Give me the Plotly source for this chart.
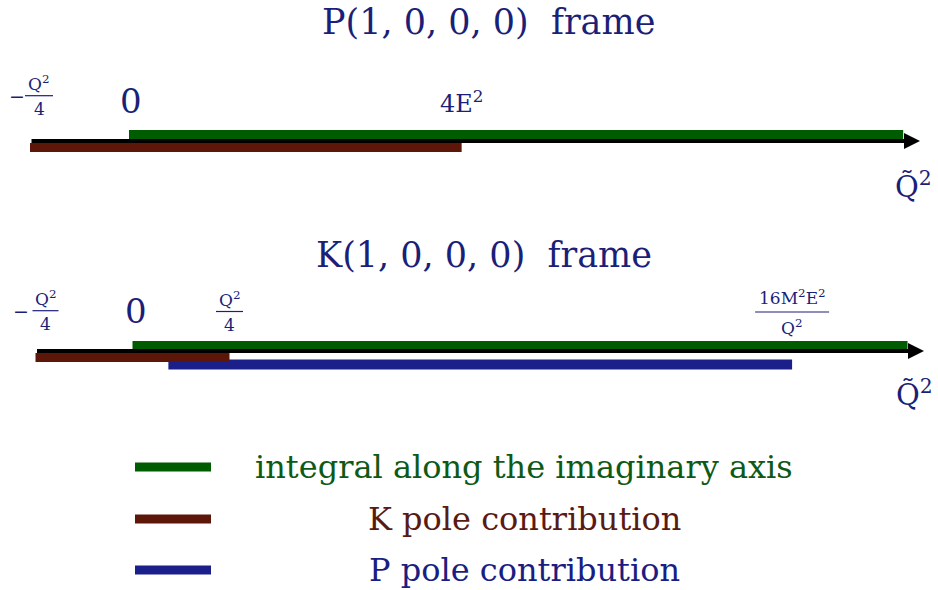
import plotly.graph_objects as go

W, H = 938, 590
FONT = "DejaVu Serif"
NAVY = "#1b1f78"
GREEN = "#005c00"
BROWN = "#5c1708"
BLUE = "#1a1f8a"
GREEN_TXT = "#0e5a14"
BROWN_TXT = "#5a1a12"
BLUE_TXT = "#1a1e82"

# ---- data: positions along the Q~^2 axis, in units of Q^2/4 ----
p_axis = [-1.0, 7.99]        # axis start, arrow tip
p_integral = [0.0, 7.82]     # integral along the imaginary axis
p_kpole = [-1.0, 3.36]       # K pole contribution (-Q^2/4 .. 4E^2)
p_tick_vals = [-1.0, 0.0, 3.36]

k_axis = [-1.0, 8.16]
k_integral = [0.0, 7.99]
k_kpole = [-1.0, 1.0]        # -Q^2/4 .. Q^2/4
k_ppole = [0.37, 6.8]        # .. 16M^2E^2/Q^2
k_tick_vals = [-1.0, 0.0, 1.0, 6.8]

legend_names = ["integral along the imaginary axis", "K pole contribution", "P pole contribution"]
frame_titles = ["P(1, 0, 0, 0)\u00a0 frame", "K(1, 0, 0, 0)\u00a0 frame"]

# ---- layout geometry (pixels) ----
P_ZERO, P_UNIT = 129.0, 99.0
K_ZERO, K_UNIT = 132.5, 97.0
def rng(zero, unit):
    return [-zero / unit, (W - zero) / unit]

P_AXIS_Y, P_INT_Y, P_K_Y = 141.0, 134.5, 147.5
K_AXIS_Y, K_INT_Y, K_K_Y, K_P_Y = 351.0, 345.5, 357.5, 364.5

fig = go.Figure()

def seg(xs, y, color, width, xaxis):
    fig.add_trace(go.Scatter(x=xs, y=[y, y], mode="lines", xaxis=xaxis, yaxis="y",
                             line=dict(color=color, width=width), hoverinfo="skip",
                             showlegend=False))

# top frame
seg(p_integral, P_INT_Y, GREEN, 9, "x")
seg(p_kpole, P_K_Y, BROWN, 9, "x")
# bottom frame
seg(k_integral, K_INT_Y, GREEN, 9, "x2")
seg(k_ppole, K_P_Y, BLUE, 10, "x2")
seg(k_kpole, K_K_Y, BROWN, 9, "x2")

ann = []
shapes = []

def axis_arrow(xs, y, xref):
    ann.append(dict(x=xs[1], y=y, ax=xs[0], ay=y, xref=xref, yref="y", axref=xref, ayref="y",
                    showarrow=True, arrowhead=2, arrowsize=0.8, arrowwidth=4,
                    arrowcolor="black", text=""))

axis_arrow(p_axis, P_AXIS_Y, "x")
axis_arrow(k_axis, K_AXIS_Y, "x2")

def text(x, y, s, size, color=NAVY, xref="x", xshift=0, xanchor="center"):
    ann.append(dict(x=x, y=y, xref=xref, yref="y", text=s, showarrow=False,
                    xanchor=xanchor, yanchor="middle", xshift=xshift,
                    font=dict(family=FONT, size=size, color=color)))

def frac(x, xref, ybar, num, den, size, barw, gap, xshift=0, minus=None):
    text(x, ybar - gap, num, size, xref=xref, xshift=xshift)
    text(x, ybar + gap, den, size, xref=xref, xshift=xshift)
    shapes.append(dict(type="line", xref=xref, yref="y", xsizemode="pixel", xanchor=x,
                       x0=xshift - barw / 2, x1=xshift + barw / 2, y0=ybar, y1=ybar,
                       line=dict(color=NAVY, width=1.2)))
    if minus is not None:
        text(x, ybar, "\u2212", size + 2, xref=xref, xshift=minus)

# titles
text(488 / W, 22, frame_titles[0], 35, xref="paper")
text(484 / W, 255, frame_titles[1], 35, xref="paper")

# top frame labels
frac(p_tick_vals[0], "x", 95.7, "Q<sup>2</sup>", "4", 17, 28, 13, xshift=9, minus=-13)
text(p_tick_vals[1], 101, "0", 34, xshift=2)
text(p_tick_vals[2], 102, "4E<sup>2</sup>", 24)
text(p_axis[1], 185, "Q\u0303<sup>2</sup>", 29, xshift=-7)

# bottom frame labels
frac(k_tick_vals[0], "x2", 310.7, "Q<sup>2</sup>", "4", 17, 26, 13, xshift=10, minus=-15)
text(k_tick_vals[1], 311, "0", 34, xref="x2", xshift=3)
frac(k_tick_vals[2], "x2", 311.5, "Q<sup>2</sup>", "4", 17, 27, 13)
frac(k_tick_vals[3], "x2", 312, "16M<sup>2</sup>E<sup>2</sup>", "Q<sup>2</sup>", 17, 74, 15)
text(k_axis[1], 393, "Q\u0303<sup>2</sup>", 29, xref="x2", xshift=-10)

# legend
leg_colors = [GREEN, BROWN, BLUE]
leg_txt_colors = [GREEN_TXT, BROWN_TXT, BLUE_TXT]
leg_y = [467, 519, 570]
for name, c, tc, y in zip(legend_names, leg_colors, leg_txt_colors, leg_y):
    shapes.append(dict(type="line", xref="paper", yref="y", x0=135 / W, x1=211 / W,
                       y0=y, y1=y, line=dict(color=c, width=9)))
    text(524 / W, y, name, 32, color=tc, xref="paper")

fig.update_layout(
    width=W, height=H, margin=dict(l=0, r=0, t=0, b=0),
    paper_bgcolor="white", plot_bgcolor="white",
    xaxis=dict(range=rng(P_ZERO, P_UNIT), visible=False, domain=[0, 1], anchor="y"),
    xaxis2=dict(range=rng(K_ZERO, K_UNIT), visible=False, domain=[0, 1], anchor="y",
                overlaying="x"),
    yaxis=dict(range=[H, 0], visible=False, domain=[0, 1]),
    annotations=ann, shapes=shapes, showlegend=False,
)
fig.write_html("out.html", config={"displayModeBar": False},
               post_script="document.body.style.margin='0';")
